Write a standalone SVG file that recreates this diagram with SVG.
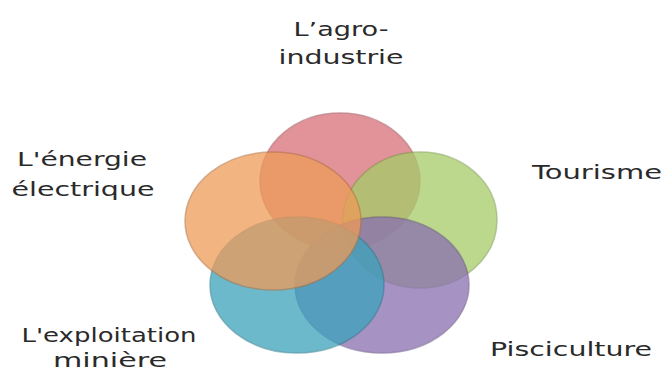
<svg xmlns="http://www.w3.org/2000/svg" width="664" height="374" viewBox="0 0 664 374">
<defs>
<style>
.c{opacity:0.75;stroke-width:1.5;stroke-opacity:0.7}
.t{font-family:"DejaVu Sans","Verdana",sans-serif;font-size:20px;fill:#2a2a2a;text-anchor:middle}
</style>
</defs>
<rect width="664" height="374" fill="#ffffff"/>
<g id="nodes">
<g id="agro"><ellipse class="c" cx="340" cy="181" rx="80" ry="68" fill="#d86f78" stroke="#a0525a"/></g>
<g id="tourisme"><ellipse class="c" cx="420" cy="220" rx="77" ry="68" fill="#a6cc68" stroke="#7a9a48"/></g>
<g id="pisciculture"><ellipse class="c" cx="382" cy="285" rx="87" ry="68" fill="#896fb0" stroke="#655085"/></g>
<g id="miniere"><ellipse class="c" cx="297" cy="285" rx="87" ry="68" fill="#3ba2bb" stroke="#2a7a8e"/></g>
<g id="energie"><ellipse class="c" cx="273" cy="221" rx="88" ry="69" fill="#ee9b58" stroke="#b07040"/></g>
</g>
<g id="labels">
<text class="t" x="341" y="36" textLength="95" lengthAdjust="spacingAndGlyphs">L’agro-</text>
<text class="t" x="341" y="64" textLength="125" lengthAdjust="spacingAndGlyphs">industrie</text>
<text class="t" x="82" y="166" textLength="130" lengthAdjust="spacingAndGlyphs">L'énergie</text>
<text class="t" x="83" y="196" textLength="143" lengthAdjust="spacingAndGlyphs">électrique</text>
<text class="t" x="597" y="179" textLength="130" lengthAdjust="spacingAndGlyphs">Tourisme</text>
<text class="t" x="109" y="342" textLength="175" lengthAdjust="spacingAndGlyphs">L'exploitation</text>
<text class="t" x="110" y="367" textLength="114" lengthAdjust="spacingAndGlyphs">minière</text>
<text class="t" x="571" y="356" textLength="162" lengthAdjust="spacingAndGlyphs">Pisciculture</text>
</g>
<g id="connectors"/>
</svg>
